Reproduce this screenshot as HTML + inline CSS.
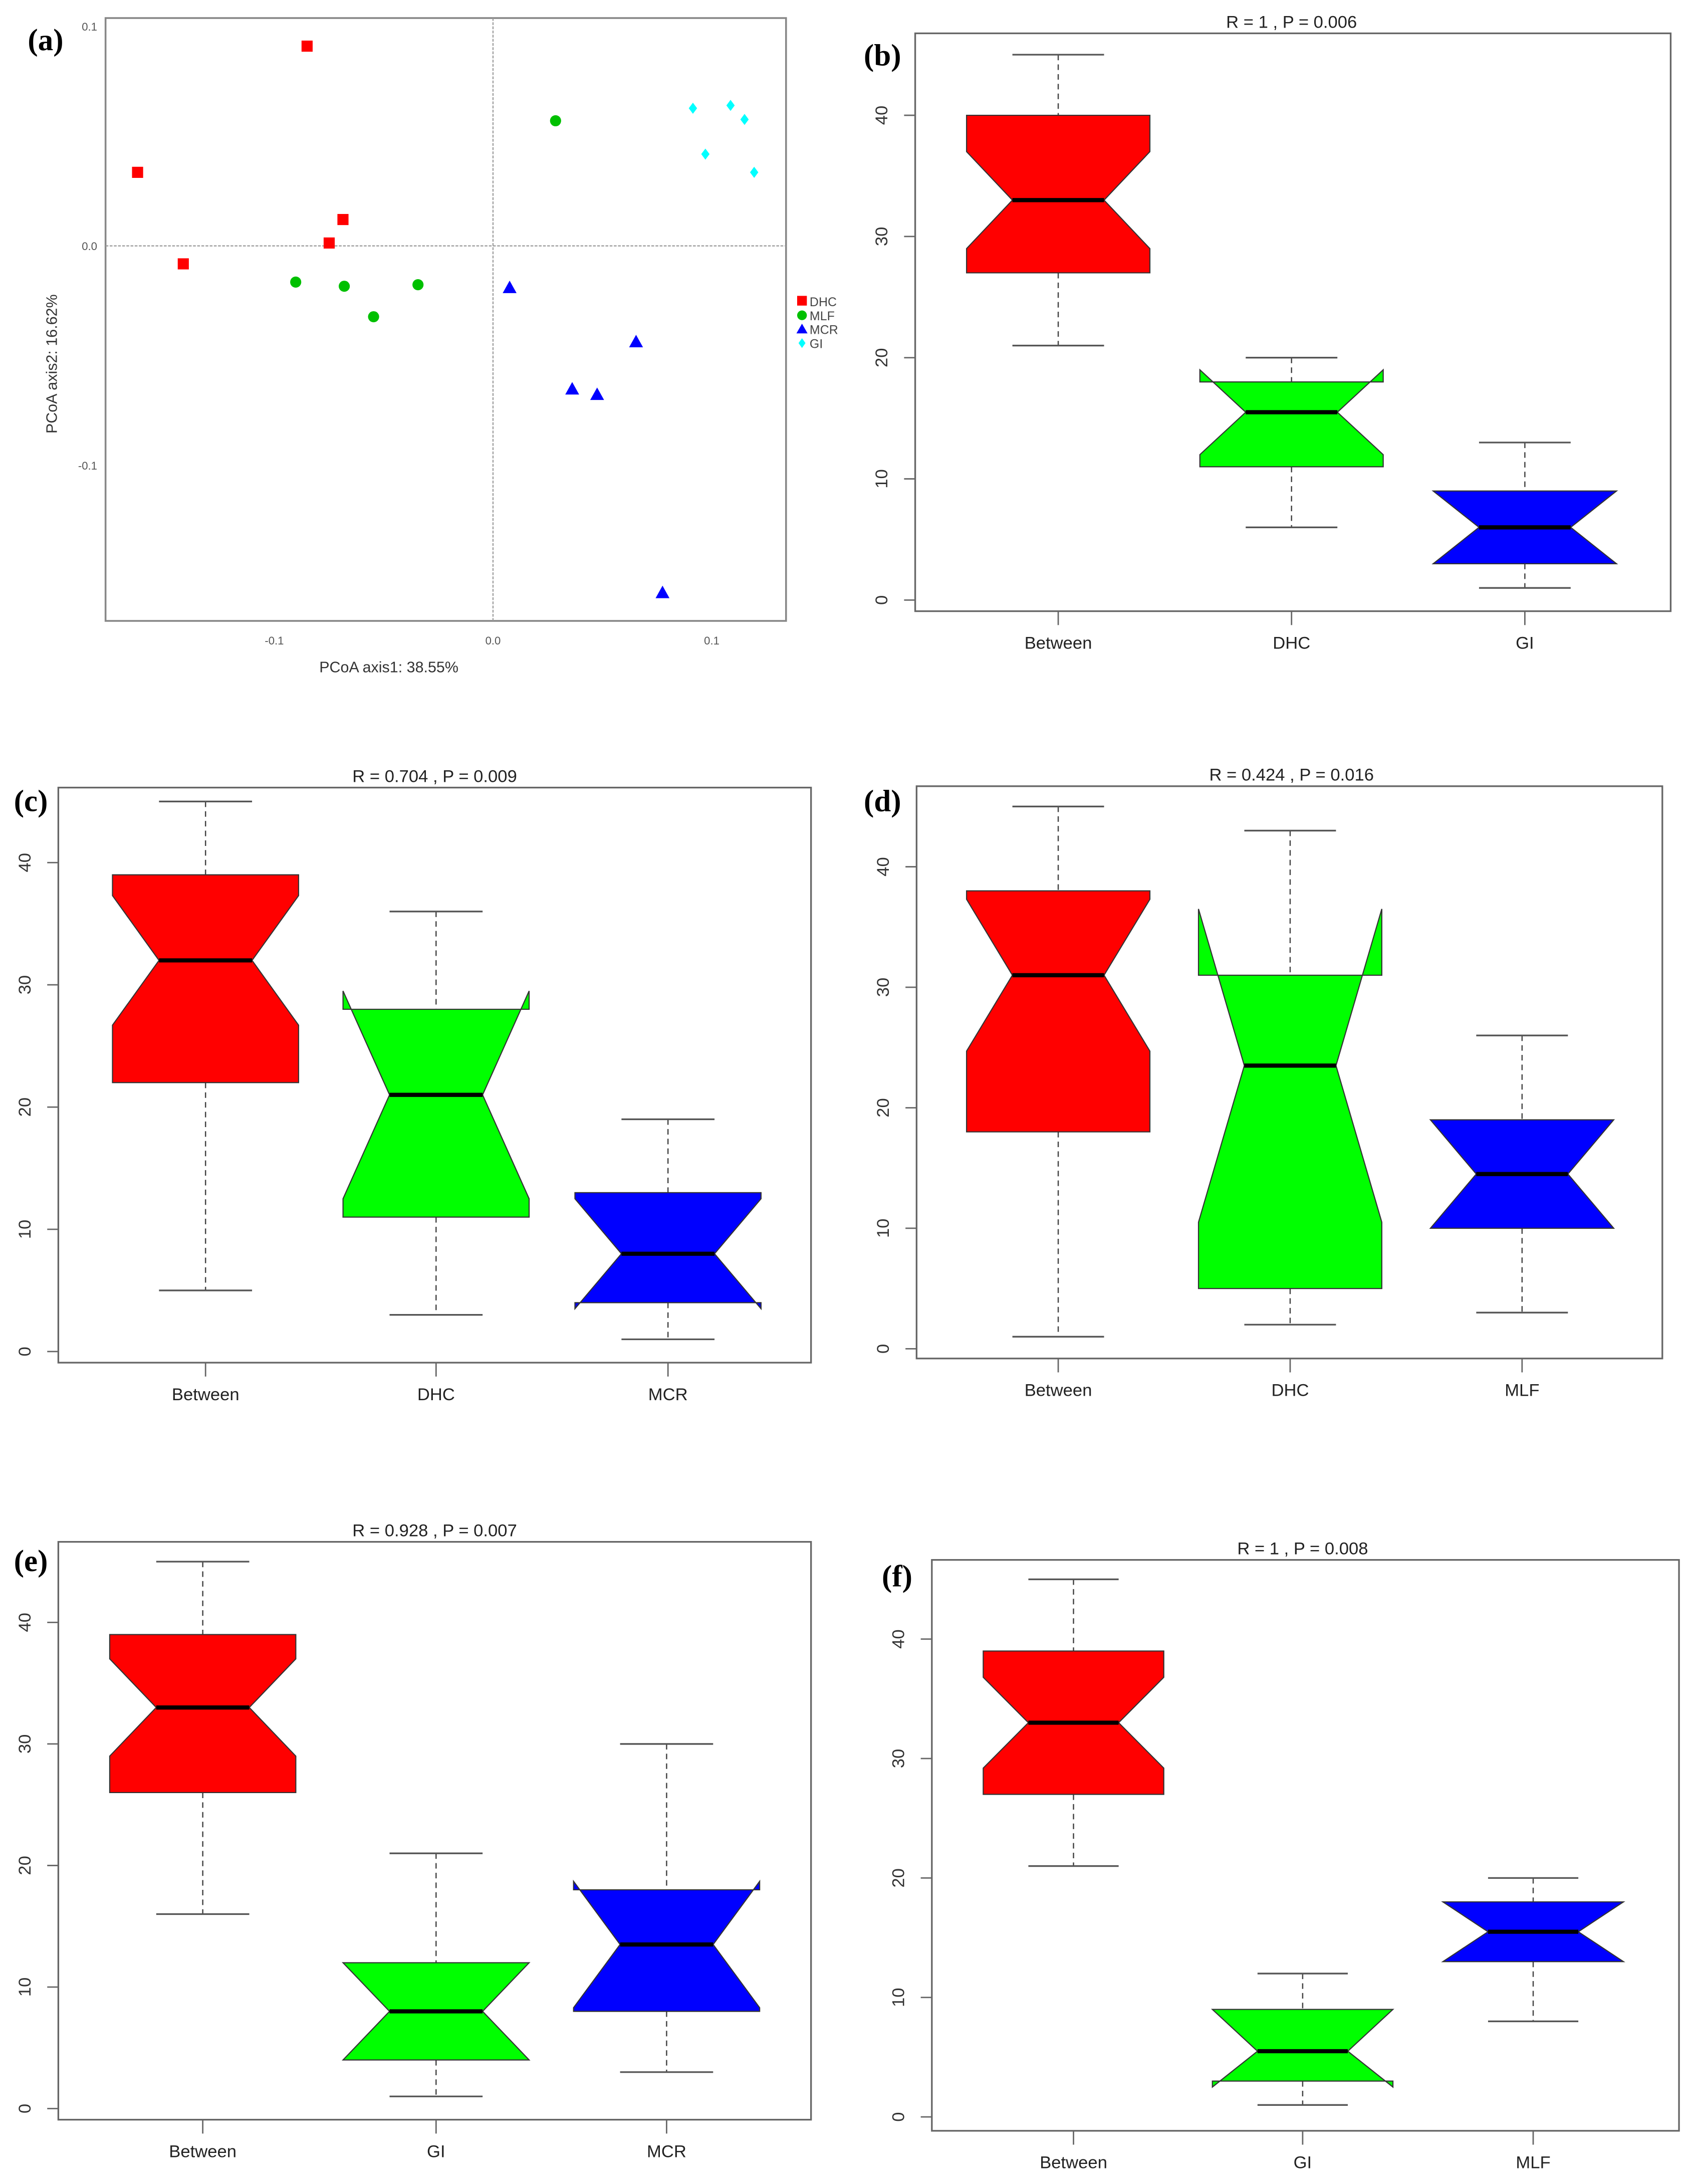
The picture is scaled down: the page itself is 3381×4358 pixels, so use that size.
<!DOCTYPE html>
<html><head><meta charset="utf-8"><style>
html,body{margin:0;padding:0;background:#fff}
svg{display:block}
text{font-family:"Liberation Sans",sans-serif}
.lbl{font-family:"Liberation Serif",serif;font-weight:bold;font-size:22px}
</style></head><body>
<svg id="fig" width="3381" height="4358" viewBox="0 0 1219.8 1572.3" preserveAspectRatio="none" xmlns="http://www.w3.org/2000/svg">
<rect width="1219.8" height="1572.3" fill="#fff"/>
<g id="pa"></g>
<g id="pb"></g>
<g id="pc"></g>
<g id="pd"></g>
<g id="pe"></g>
<g id="pf"></g>
</svg>
<script>
// ---- PCoA data ----
const pcoaGroups = ["DHC","MLF","MCR","GI"];
const pcoaColors = ["#ff0000","#00c000","#0000ff","#00ffff"];
const dhcX = [-0.085,-0.1625,-0.1416,-0.0686,-0.0749];
const dhcY = [0.091,0.0335,-0.0082,0.012,0.0013];
const mlfX = [0.0286,-0.0902,-0.068,-0.0343,-0.0546];
const mlfY = [0.057,-0.0165,-0.0184,-0.0177,-0.0323];
const mcrX = [0.0076,0.0654,0.0362,0.0476,0.0775];
const mcrY = [-0.019,-0.0437,-0.0652,-0.0677,-0.158];
const giX = [0.0914,0.1086,0.115,0.0971,0.1194];
const giY = [0.0627,0.064,0.0576,0.0418,0.0335];
const pcoaXTicks = [-0.1,0.0,0.1];
const pcoaYTicks = [0.1,0.0,-0.1];

// ---- Boxplot data ----
const bCats = ["Between","DHC","GI"];
const bLo = [21,6,1], bQ1 = [27,11,3], bMed = [33,15.5,6], bQ3 = [40,18,9], bHi = [45,20,13];
const bNLo = [29,12,3], bNHi = [37,19,9];
const cCats = ["Between","DHC","MCR"];
const cLo = [5,3,1], cQ1 = [22,11,4], cMed = [32,21,8], cQ3 = [39,28,13], cHi = [45,36,19];
const cNLo = [26.7,12.5,3.5], cNHi = [37.3,29.5,12.5];
const dCats = ["Between","DHC","MLF"];
const dLo = [1,2,3], dQ1 = [18,5,10], dMed = [31,23.5,14.5], dQ3 = [38,31,19], dHi = [45,43,26];
const dNLo = [24.7,10.5,10], dNHi = [37.3,36.5,19];
const eCats = ["Between","GI","MCR"];
const eLo = [16,1,3], eQ1 = [26,4,8], eMed = [33,8,13.5], eQ3 = [39,12,18], eHi = [45,21,30];
const eNLo = [29,4,8.3], eNHi = [37,12,18.7];
const fCats = ["Between","GI","MLF"];
const fLo = [21,1,8], fQ1 = [27,3,13], fMed = [33,5.5,15.5], fQ3 = [39,9,18], fHi = [45,12,20];
const fNLo = [29.2,2.5,13], fNHi = [36.8,9,18];
const boxColors = ["#ff0000","#00ff00","#0000ff"];
const yTicks = [0,10,20,30,40];

const NS="http://www.w3.org/2000/svg";
function mk(parent,tag,attrs,txt){const e=document.createElementNS(NS,tag);for(const k in attrs)e.setAttribute(k,attrs[k]);if(txt!==undefined)e.textContent=txt;parent.appendChild(e);return e;}

// ---- Panel (a) ----
(function(){
  const g=document.getElementById('pa');
  const L=76,R=566,T=13,B=447;
  const sx=v=>355+v*1575, sy=v=>177-v*1580;
  const fr=mk(g,'rect',{x:L,y:T,width:R-L,height:B-T,fill:'none',stroke:'#888','stroke-width':1.3});
  
  mk(g,'line',{x1:sx(0),y1:T,x2:sx(0),y2:B,stroke:'#999','stroke-width':0.8,'stroke-dasharray':'2,1'});
  mk(g,'line',{x1:L,y1:sy(0),x2:R,y2:sy(0),stroke:'#999','stroke-width':0.8,'stroke-dasharray':'2,1'});
  pcoaXTicks.forEach(v=>{const t=mk(g,'text',{x:sx(v),y:464,'font-size':8,'text-anchor':'middle',fill:'#555','font-family':'Liberation Serif, serif'},v.toFixed(1));
    });
  pcoaYTicks.forEach(v=>{const t=mk(g,'text',{x:70,y:sy(v)+3,'font-size':8,'text-anchor':'end',fill:'#555','font-family':'Liberation Serif, serif'},v.toFixed(1));
    });
  const xt=mk(g,'text',{x:280,y:484,'font-size':11,'text-anchor':'middle',fill:'#333','font-family':'Liberation Serif, serif'},'PCoA axis1: 38.55%');
  
  const yt=mk(g,'text',{x:0,y:0,'font-size':11,'text-anchor':'middle',fill:'#333','font-family':'Liberation Serif, serif',transform:'translate(41,262) rotate(-90)'},'PCoA axis2: 16.62%');
  
  const sets=[[dhcX,dhcY],[mlfX,mlfY],[mcrX,mcrY],[giX,giY]];
  sets.forEach((s,gi)=>{
    s[0].forEach((xv,i)=>{
      const x=sx(xv),y=sy(s[1][i]),c=pcoaColors[gi];let m;
      if(gi===0)m=mk(g,'rect',{x:x-4,y:y-4,width:8,height:8,fill:c});
      else if(gi===1)m=mk(g,'circle',{cx:x,cy:y,r:4,fill:c});
      else if(gi===2)m=mk(g,'polygon',{points:`${x},${y-5} ${x-5},${y+4} ${x+5},${y+4}`,fill:c});
      else m=mk(g,'polygon',{points:`${x},${y-4} ${x+3},${y} ${x},${y+4} ${x-3},${y}`,fill:c});
      
      
    });
  });
  pcoaGroups.forEach((n,i)=>{
    const y=217+i*10,c=pcoaColors[i];
    const le=mk(g,'g',{});
    
    if(i===0)mk(le,'rect',{x:574,y:y-4,width:7,height:7,fill:c});
    else if(i===1)mk(le,'circle',{cx:577.5,cy:y,r:3.5,fill:c});
    else if(i===2)mk(le,'polygon',{points:`577.5,${y-4} 573.5,${y+3} 581.5,${y+3}`,fill:c});
    else mk(le,'polygon',{points:`577.5,${y-3.5} 580,${y} 577.5,${y+3.5} 575,${y}`,fill:c});
    mk(le,'text',{x:583,y:y+3.5,'font-size':9,fill:'#444'},n);
  });
  const lb=mk(g,'text',{x:20,y:36,class:'lbl'},'(a)');
  
})();

// ---- Box panels ----
function boxPanel(id,letter,title,cats,lo,q1,med,q3,hi,nlo,nhi,cols,P){
  const g=document.getElementById(id);
  const sy=v=>P.y0-v*P.k;
  const fr=mk(g,'rect',{x:P.L,y:P.T,width:P.R-P.L,height:P.B-P.T,fill:'none',stroke:'#666','stroke-width':1.2});
  
  const tt=mk(g,'text',{x:P.tx,y:P.T-4,'font-size':12.5,'text-anchor':'middle',fill:'#222'},title);
  
  const lb=mk(g,'text',{x:P.lx,y:P.ly,class:'lbl'},letter);
  
  yTicks.forEach(v=>{
    mk(g,'line',{x1:P.L,y1:sy(v),x2:P.L-8,y2:sy(v),stroke:'#666','stroke-width':1});
    const t=mk(g,'text',{'font-size':12.5,'text-anchor':'middle',fill:'#333',transform:`translate(${P.L-20},${sy(v)}) rotate(-90)`},String(v));
    
  });
  cats.forEach((c,i)=>{
    const x=P.cx[i],w=P.w;
    mk(g,'line',{x1:x,y1:P.B,x2:x,y2:P.B+10,stroke:'#666','stroke-width':1});
    const t=mk(g,'text',{x:x,y:P.B+27,'font-size':12.5,'text-anchor':'middle',fill:'#222'},c);
    
    const wh=mk(g,'g',{});
    
    mk(wh,'line',{x1:x,y1:sy(hi[i]),x2:x,y2:sy(q3[i]),stroke:'#444','stroke-width':0.9,'stroke-dasharray':'4,3'});
    mk(wh,'line',{x1:x,y1:sy(q1[i]),x2:x,y2:sy(lo[i]),stroke:'#444','stroke-width':0.9,'stroke-dasharray':'4,3'});
    mk(wh,'line',{x1:x-w/2,y1:sy(hi[i]),x2:x+w/2,y2:sy(hi[i]),stroke:'#555','stroke-width':1.2});
    mk(wh,'line',{x1:x-w/2,y1:sy(lo[i]),x2:x+w/2,y2:sy(lo[i]),stroke:'#555','stroke-width':1.2});
    const pts=[[x-w,q1[i]],[x-w,nlo[i]],[x-w/2,med[i]],[x-w,nhi[i]],[x-w,q3[i]],[x+w,q3[i]],[x+w,nhi[i]],[x+w/2,med[i]],[x+w,nlo[i]],[x+w,q1[i]]];
    const b=mk(g,'polygon',{points:pts.map(p=>p[0]+','+sy(p[1])).join(' '),fill:cols[i],stroke:'#333','stroke-width':0.8});
    
    const m=mk(g,'line',{x1:x-w/2,y1:sy(med[i]),x2:x+w/2,y2:sy(med[i]),stroke:'#000','stroke-width':3});
    
  });
}
boxPanel('pb','(b)','R =  1 ,  P =  0.006',bCats,bLo,bQ1,bMed,bQ3,bHi,bNLo,bNHi,boxColors,
  {L:659,R:1203,T:24,B:440,y0:432,k:8.725,cx:[762,930,1098],w:66,tx:930,lx:622,ly:47});
boxPanel('pc','(c)','R =  0.704 ,  P =  0.009',cCats,cLo,cQ1,cMed,cQ3,cHi,cNLo,cNHi,boxColors,
  {L:42,R:584,T:567,B:981,y0:973,k:8.8,cx:[148,314,481],w:67,tx:313,lx:10,ly:584});
boxPanel('pd','(d)','R =  0.424 ,  P =  0.016',dCats,dLo,dQ1,dMed,dQ3,dHi,dNLo,dNHi,boxColors,
  {L:660,R:1197,T:566,B:978,y0:971,k:8.675,cx:[762,929,1096],w:66,tx:930,lx:622,ly:584});
boxPanel('pe','(e)','R =  0.928 ,  P =  0.007',eCats,eLo,eQ1,eMed,eQ3,eHi,eNLo,eNHi,boxColors,
  {L:42,R:584,T:1110,B:1526,y0:1518,k:8.75,cx:[146,314,480],w:67,tx:313,lx:10,ly:1131});
boxPanel('pf','(f)','R =  1 ,  P =  0.008',fCats,fLo,fQ1,fMed,fQ3,fHi,fNLo,fNHi,boxColors,
  {L:671,R:1209,T:1123,B:1534,y0:1524,k:8.6,cx:[773,938,1104],w:65,tx:938,lx:635,ly:1142});
</script>
</body></html>
